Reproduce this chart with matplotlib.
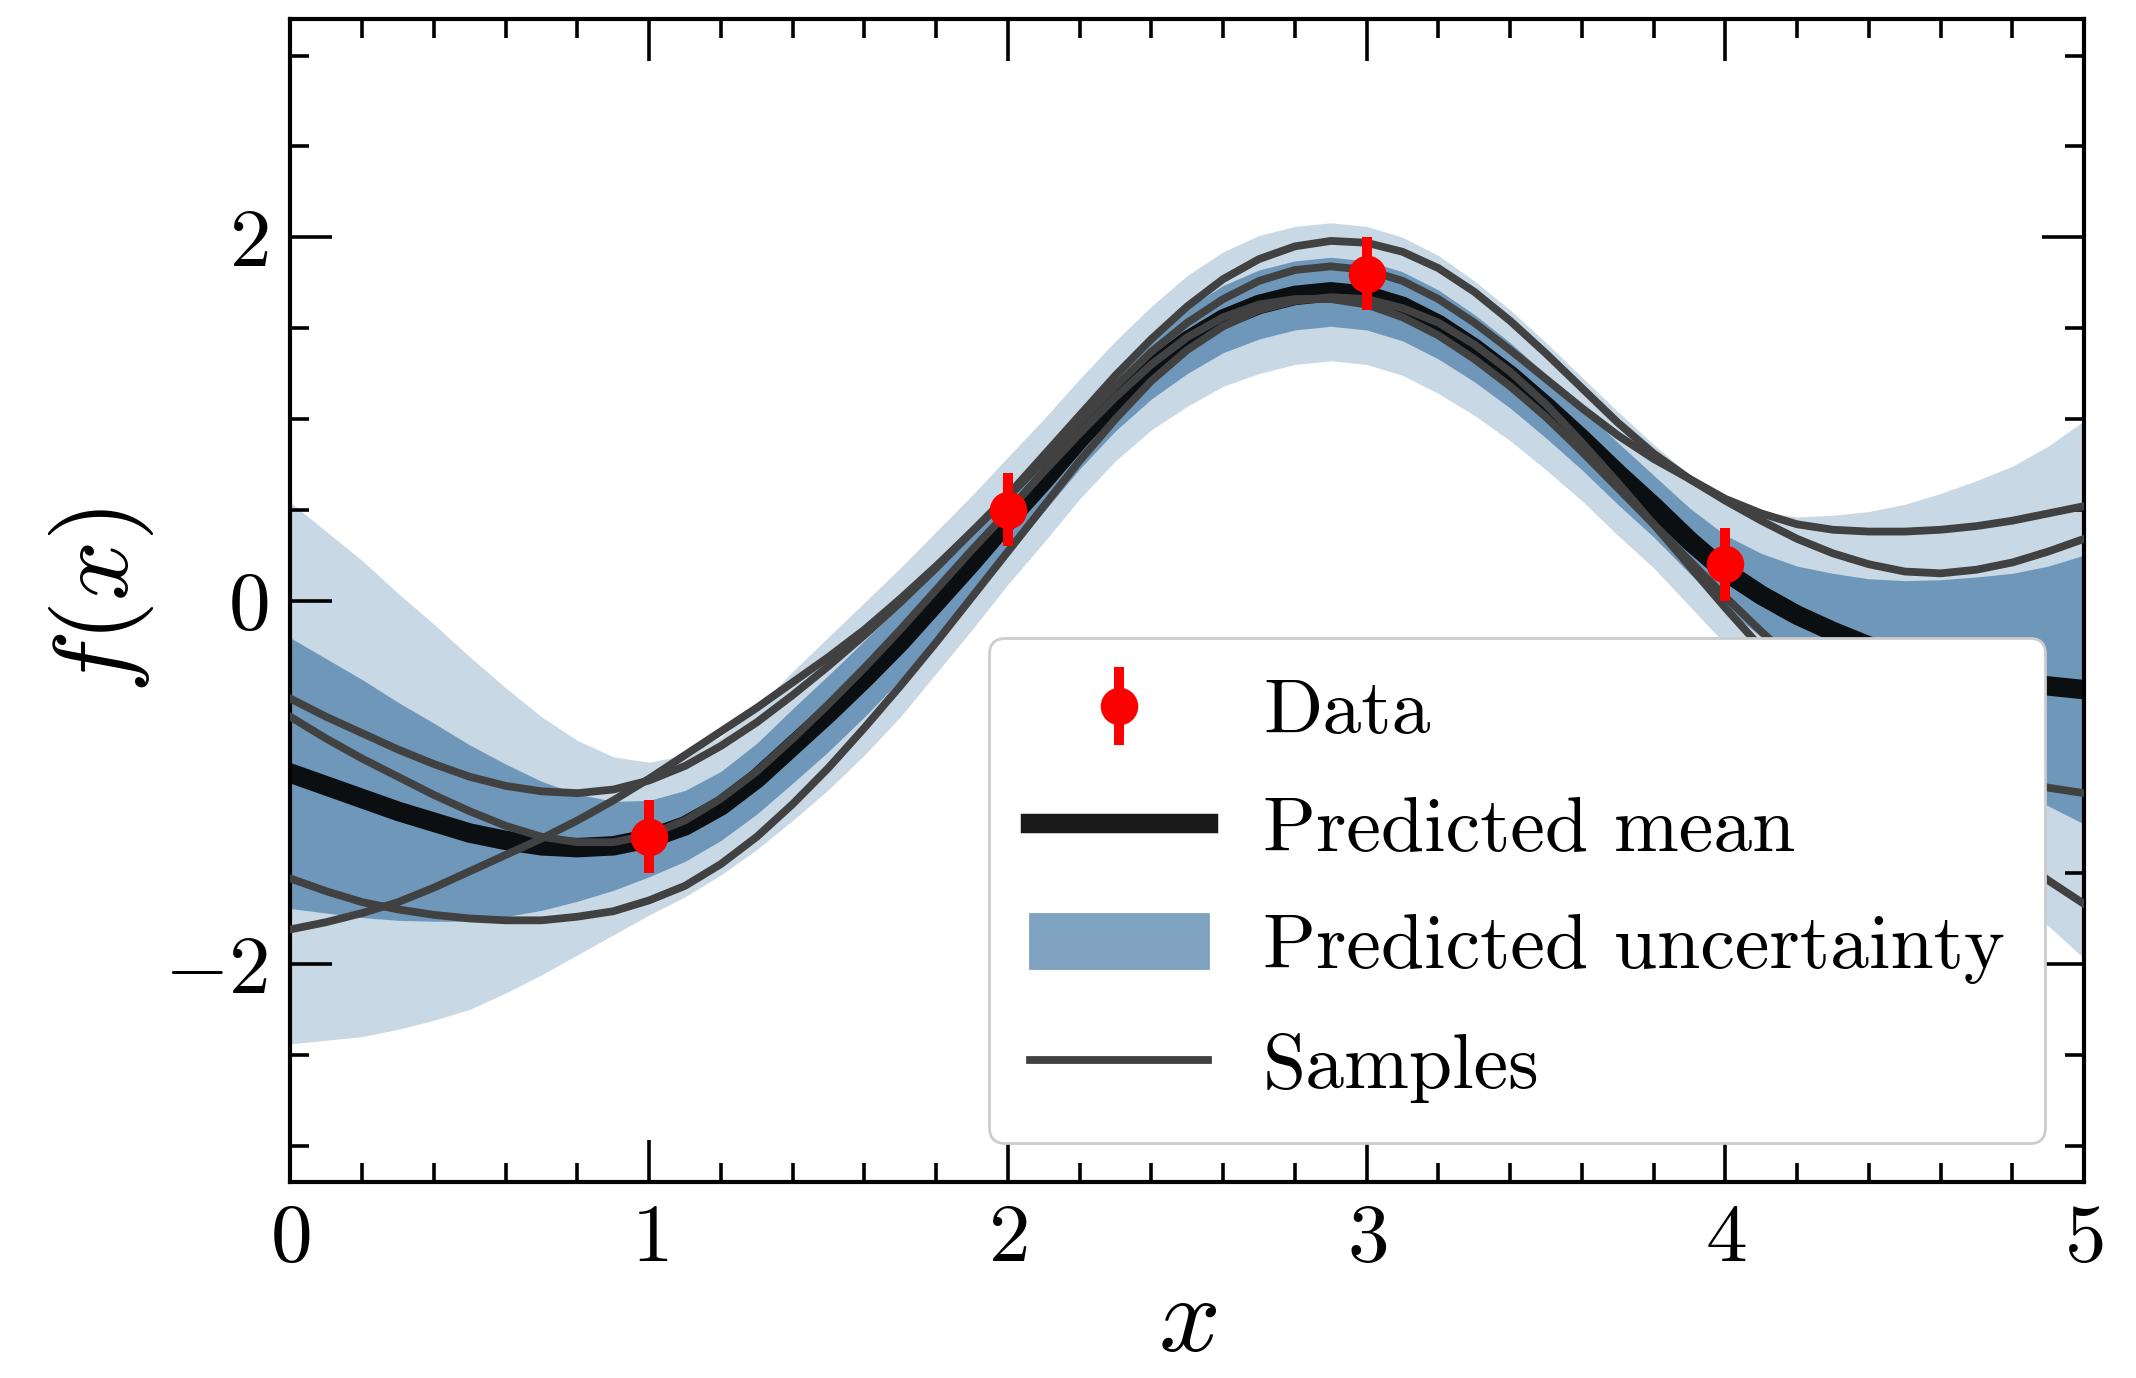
import numpy as np
import matplotlib
matplotlib.use("Agg")
import matplotlib.pyplot as plt
from matplotlib.ticker import MultipleLocator
from matplotlib.patches import Patch

plt.rcParams['font.family'] = 'serif'
plt.rcParams['font.serif'] = ['cmr10']
plt.rcParams['mathtext.fontset'] = 'cm'
plt.rcParams['axes.formatter.use_mathtext'] = True
plt.rcParams['axes.unicode_minus'] = True

# observations
x_obs = [1.0, 2.0, 3.0, 4.0]
y_obs = [-1.3, 0.5, 1.8, 0.2]
y_err = [0.2, 0.2, 0.2, 0.2]

# prediction grid
x_grid = np.round(np.arange(0, 5.01, 0.1), 2)

mu = [-0.95, -1.02, -1.09, -1.16, -1.22, -1.28, -1.32, -1.35, -1.36, -1.35,
      -1.31, -1.24, -1.13, -0.98, -0.80, -0.62, -0.43, -0.23, -0.01, 0.21,
      0.44, 0.66, 0.89, 1.10, 1.28, 1.43, 1.55, 1.63, 1.68, 1.70,
      1.68, 1.62, 1.52, 1.39, 1.24, 1.07, 0.89, 0.70, 0.52, 0.33,
      0.16, 0.03, -0.08, -0.17, -0.25, -0.31, -0.36, -0.40, -0.44, -0.47,
      -0.49]

sigma = [0.745, 0.70, 0.655, 0.60, 0.545, 0.485, 0.42, 0.355, 0.295, 0.245,
         0.21, 0.195, 0.19, 0.195, 0.205, 0.21, 0.21, 0.205, 0.195, 0.185,
         0.175, 0.17, 0.165, 0.165, 0.17, 0.18, 0.185, 0.19, 0.19, 0.19,
         0.19, 0.19, 0.19, 0.185, 0.18, 0.175, 0.17, 0.17, 0.17, 0.18,
         0.20, 0.23, 0.27, 0.32, 0.37, 0.42, 0.475, 0.53, 0.59, 0.66,
         0.74]

sample_1 = [-0.54, -0.64, -0.73, -0.82, -0.90, -0.97, -1.02, -1.05, -1.06, -1.04,
            -0.99, -0.91, -0.80, -0.67, -0.52, -0.36, -0.19, -0.01, 0.18, 0.38,
            0.58, 0.80, 1.02, 1.24, 1.44, 1.62, 1.77, 1.88, 1.95, 1.98,
            1.97, 1.92, 1.83, 1.70, 1.54, 1.36, 1.17, 0.98, 0.81, 0.67,
            0.56, 0.48, 0.42, 0.39, 0.38, 0.38, 0.39, 0.41, 0.44, 0.48,
            0.52]
sample_2 = [-0.64, -0.76, -0.87, -0.97, -1.07, -1.16, -1.24, -1.30, -1.33, -1.33,
            -1.29, -1.21, -1.09, -0.94, -0.76, -0.57, -0.37, -0.16, 0.06, 0.28,
            0.49, 0.71, 0.92, 1.12, 1.30, 1.45, 1.56, 1.63, 1.66, 1.66,
            1.63, 1.56, 1.46, 1.33, 1.18, 1.01, 0.82, 0.62, 0.42, 0.22,
            0.02, -0.17, -0.35, -0.51, -0.65, -0.77, -0.87, -0.94, -0.99, -1.03,
            -1.06]
sample_3 = [-1.53, -1.60, -1.66, -1.70, -1.73, -1.75, -1.76, -1.76, -1.74, -1.71,
            -1.65, -1.57, -1.45, -1.30, -1.12, -0.92, -0.70, -0.47, -0.23, 0.02,
            0.27, 0.52, 0.77, 1.00, 1.21, 1.38, 1.51, 1.60, 1.65, 1.67,
            1.66, 1.61, 1.53, 1.41, 1.26, 1.08, 0.87, 0.65, 0.42, 0.19,
            -0.04, -0.26, -0.47, -0.66, -0.83, -0.98, -1.12, -1.26, -1.40, -1.54,
            -1.67]
sample_4 = [-1.81, -1.77, -1.72, -1.66, -1.58, -1.49, -1.40, -1.31, -1.21, -1.10,
            -0.98, -0.85, -0.72, -0.59, -0.45, -0.31, -0.16, 0.01, 0.19, 0.38,
            0.57, 0.77, 0.98, 1.18, 1.37, 1.53, 1.66, 1.76, 1.82, 1.84,
            1.82, 1.76, 1.66, 1.53, 1.38, 1.22, 1.06, 0.91, 0.78, 0.67,
            0.55, 0.44, 0.34, 0.26, 0.20, 0.16, 0.15, 0.17, 0.21, 0.27,
            0.34]
samples = [sample_1, sample_2, sample_3, sample_4]

mu_a = np.array(mu)
sd_a = np.array(sigma)

fig = plt.figure(figsize=(10.68, 6.89), dpi=200)
ax = fig.add_axes([0.136, 0.1423, 0.8397, 0.8437])

ax.fill_between(x_grid, mu_a - 2 * sd_a, mu_a + 2 * sd_a, color='#c9d8e5', lw=0, zorder=1)
ax.fill_between(x_grid, mu_a - sd_a, mu_a + sd_a, color='#6e97ba', lw=0, zorder=2)
mean_line, = ax.plot(x_grid, mu, color='k', alpha=0.9, lw=7, zorder=3)
for s in samples:
    samp_line, = ax.plot(x_grid, s, color='#414141', lw=2.8, zorder=4)
data = ax.errorbar(x_obs, y_obs, yerr=y_err, fmt='o', color='red', ms=12.5,
                   elinewidth=3.6, capsize=0, zorder=5)

ax.set_xlim(0, 5)
ax.set_ylim(-3.2, 3.2)
ax.xaxis.set_major_locator(MultipleLocator(1))
ax.xaxis.set_minor_locator(MultipleLocator(0.2))
ax.yaxis.set_major_locator(MultipleLocator(2))
ax.yaxis.set_minor_locator(MultipleLocator(0.5))
ax.tick_params(which='both', direction='in', top=True, right=True, width=1.3,
               labelsize=30)
ax.tick_params(which='major', length=15, pad=8)
ax.tick_params(which='minor', length=7)
for sp in ax.spines.values():
    sp.set_linewidth(1.5)

ax.set_xlabel(r'$x$', fontsize=39, labelpad=-1)
ax.set_ylabel(r'$f(x)$', fontsize=38, labelpad=3)

unc_patch = Patch(facecolor='#7fa2c1', edgecolor='#7fa2c1')
ax.legend([data, mean_line, unc_patch, samp_line],
          ['Data', 'Predicted mean', 'Predicted uncertainty', 'Samples'],
          loc='lower right', fontsize=28, framealpha=1, edgecolor='#cccccc',
          handlelength=2.3, handletextpad=0.7, labelspacing=0.62,
          borderpad=0.52)

fig.savefig('out.png', dpi=200)
